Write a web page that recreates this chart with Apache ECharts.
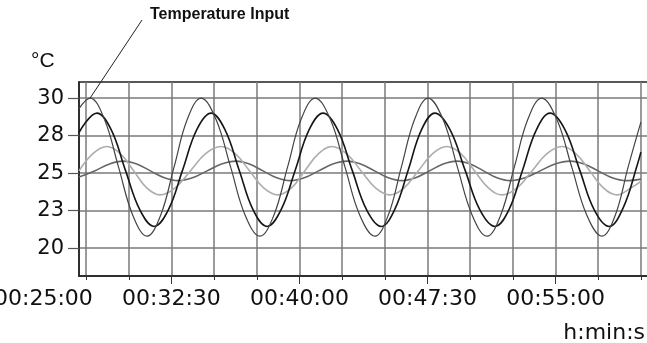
<!DOCTYPE html>
<html><head><meta charset="utf-8">
<script src="https://cdn.jsdelivr.net/npm/echarts@6/dist/echarts.min.js"></script>
<style>html,body{margin:0;padding:0;background:#fff}#c{width:647px;height:343px}</style>
</head><body><div id="c"></div>
<script>
// time in seconds (00:25:00 = 1500 s)
const xTickValues = [1500, 1950, 2400, 2850, 3300];
const xTickLabels = ['00:25:00', '00:32:30', '00:40:00', '00:47:30', '00:55:00'];
const xGridValues = [1650, 1800, 1950, 2100, 2250, 2400, 2550, 2700, 2850, 3000, 3150, 3300, 3450, 3600];
const yTickValues = [20, 22.5, 25, 27.5, 30];
const yTickLabels = ['20', '23', '25', '28', '30'];

const inputTimes = [1625,1664,1714,1764,1814,1864,1912,1959,2006,2054,2106,2158,2209,2261,2310,2358,2406,2455,2508,2560,2612,2665,2712,2758,2805,2852,2904,2955,3007,3059,3107,3155,3203,3251,3304,3357,3410,3463,3510,3555,3600];
const inputValues = [29.3,30.0,28.6,25.4,22.2,20.8,22.2,25.4,28.6,30.0,28.6,25.4,22.2,20.8,22.2,25.4,28.6,30.0,28.6,25.4,22.2,20.8,22.2,25.4,28.6,30.0,28.6,25.4,22.2,20.8,22.2,25.4,28.6,30.0,28.6,25.4,22.2,20.8,22.2,25.4,28.4];

const outputTimes = [1625,1688,1738,1788,1839,1889,1939,1989,2039,2089,2138,2188,2237,2286,2335,2385,2434,2483,2534,2585,2636,2687,2734,2782,2829,2876,2929,2982,3034,3087,3136,3184,3233,3281,3333,3385,3436,3488,3538,3588,3600];
const outputValues = [27.7,29.0,27.9,25.2,22.55,21.45,22.55,25.2,27.9,29.0,27.9,25.2,22.55,21.45,22.55,25.2,27.9,29.0,27.9,25.2,22.55,21.45,22.55,25.2,27.9,29.0,27.9,25.2,22.55,21.45,22.55,25.2,27.9,29.0,27.9,25.2,22.55,21.45,22.7,25.6,26.4];

const lightTimes = [1625,1674,1723,1770,1817,1863,1910,1963,2017,2070,2124,2174,2224,2274,2324,2372,2419,2467,2514,2565,2616,2667,2718,2768,2818,2868,2918,2967,3015,3064,3112,3165,3218,3270,3323,3371,3420,3468,3516,3560,3600];
const lightValues = [25.15,26.3,26.77,26.3,25.16,24.02,23.55,24.02,25.16,26.3,26.77,26.3,25.16,24.02,23.55,24.02,25.16,26.3,26.77,26.3,25.16,24.02,23.55,24.02,25.16,26.3,26.77,26.3,25.16,24.02,23.55,24.02,25.16,26.3,26.77,26.3,25.16,24.02,23.55,23.95,24.45];

const stairTimes = [1625,1680,1730,1780,1828,1876,1925,1973,2024,2075,2126,2177,2224,2272,2320,2367,2417,2467,2517,2567,2615,2664,2712,2760,2808,2857,2905,2954,3000,3047,3094,3140,3193,3246,3298,3351,3400,3450,3499,3548,3600];
const stairValues = [24.75,25.15,25.6,25.8,25.61,25.15,24.69,24.5,24.69,25.15,25.61,25.8,25.61,25.15,24.69,24.5,24.69,25.15,25.61,25.8,25.61,25.15,24.69,24.5,24.69,25.15,25.61,25.8,25.61,25.15,24.69,24.5,24.69,25.15,25.61,25.8,25.61,25.15,24.69,24.5,24.6];

const pairs = (ts, vs) => ts.map((t, i) => [t, vs[i]]);
const xFmt = v => { const i = xTickValues.indexOf(v); return i >= 0 ? xTickLabels[i] : ''; };
const yFmt = v => { const i = yTickValues.indexOf(v); return i >= 0 ? yTickLabels[i] : ''; };

const chart = echarts.init(document.getElementById('c'), null, {renderer: 'canvas'});
const lineBase = {type: 'line', xAxisIndex: 0, yAxisIndex: 0, showSymbol: false, symbol: 'none', smooth: 0.4, silent: true, animation: false};

chart.setOption({
  animation: false,
  backgroundColor: '#fff',
  grid: [
    {left: 79, top: 82, width: 571, height: 194, show: true, borderColor: '#222', borderWidth: 1.5, backgroundColor: 'transparent', outerBoundsMode: 'none', containLabel: false},
    {left: 43.4, top: 82, width: 606.6, height: 194, show: false, outerBoundsMode: 'none', containLabel: false}
  ],
  xAxis: [
    {gridIndex: 0, type: 'value', min: 1625, max: 3632,
      axisLine: {show: true, onZero: false, lineStyle: {color: '#222', width: 1.5}},
      axisTick: {show: true, customValues: xGridValues, length: 4, lineStyle: {color: '#333', width: 1}},
      axisLabel: {show: false},
      splitLine: {show: true, lineStyle: {color: '#7a7a7a', width: 1.5}}},
    {gridIndex: 1, type: 'value', min: 1500, max: 3632,
      axisLine: {show: false, onZero: false},
      axisTick: {show: true, customValues: xTickValues.filter(v => v >= 1625), length: 8, lineStyle: {color: '#333', width: 1}},
      axisLabel: {show: true, customValues: xTickValues, formatter: xFmt, margin: 12, showMinLabel: true, showMaxLabel: true,
        fontFamily: 'DejaVu Sans', fontSize: 22, color: '#111'},
      splitLine: {show: false}}
  ],
  yAxis: [
    {gridIndex: 0, type: 'value', min: 18.15, max: 31.07,
      axisLine: {show: true, lineStyle: {color: '#222', width: 1.5}},
      axisTick: {show: true, customValues: yTickValues, length: 11, lineStyle: {color: '#555', width: 1.2}},
      axisLabel: {show: true, customValues: yTickValues, formatter: yFmt, margin: 15,
        fontFamily: 'DejaVu Sans', fontSize: 21, color: '#111'},
      splitLine: {show: true, lineStyle: {color: '#7a7a7a', width: 1.5}}},
    {gridIndex: 1, type: 'value', min: 18.15, max: 31.07, show: false}
  ],
  series: [
    Object.assign({}, lineBase, {name: 'stair', data: pairs(stairTimes, stairValues), lineStyle: {color: '#666', width: 1.6}}),
    Object.assign({}, lineBase, {name: 'light', data: pairs(lightTimes, lightValues), lineStyle: {color: '#adadad', width: 1.6}}),
    Object.assign({}, lineBase, {name: 'output', data: pairs(outputTimes, outputValues), lineStyle: {color: '#161616', width: 1.6}}),
    Object.assign({}, lineBase, {name: 'Temperature Input', data: pairs(inputTimes, inputValues), lineStyle: {color: '#444', width: 1.2},
      markLine: {silent: true, symbol: ['none', 'none'], animation: false, label: {show: false},
        lineStyle: {color: '#222', width: 1, type: 'solid'},
        data: [[{coord: [inputTimes[1], inputValues[1]]}, {x: 142, y: 20}]]}})
  ],
  graphic: [
    {type: 'text', left: 150, top: 7, style: {text: 'Temperature Input', font: 'bold 16px "Liberation Sans", Arial, sans-serif', fill: '#111'}},
    {type: 'text', left: 31, top: 51, style: {text: '°C', font: '21px "Liberation Sans", Arial, sans-serif', fill: '#111'}},
    {type: 'text', right: 2, top: 322, style: {text: 'h:min:s', font: '22px "DejaVu Sans", sans-serif', fill: '#111'}}
  ]
});
</script></body></html>
